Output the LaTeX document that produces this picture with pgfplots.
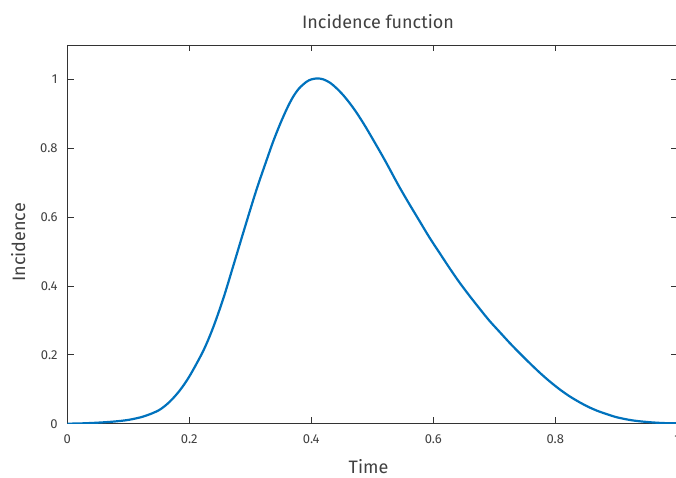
\documentclass[border=0pt]{standalone}
\usepackage{fontspec}
\setmainfont{Fira Sans}
\usepackage{pgfplots}
\pgfplotsset{compat=1.18}
\definecolor{curve}{RGB}{0,114,189}
\definecolor{txt}{RGB}{64,64,64}
\begin{document}
\begin{tikzpicture}[x=1pt,y=1pt]
\useasboundingbox (0,0) rectangle (676,478);
\begin{axis}[
  at={(67.3pt,54.3pt)}, anchor=south west,
  scale only axis, width=610pt, height=378.7pt,
  xmin=0, xmax=1, ymin=0, ymax=1.1,
  xtick={0,0.2,0.4,0.6,0.8,1},
  ytick={0,0.2,0.4,0.6,0.8,1},
  tick align=inside, major tick length=6.5pt,
  axis line style={draw=black!80, line width=0.9pt},
  every tick/.style={draw=black!80, line width=0.9pt},
  /pgf/number format/assume math mode=true,
  tick label style={font=\fontsize{13}{15}\selectfont, text=txt, inner sep=0pt},
  xticklabel style={anchor=center, yshift=-15.8pt},
  yticklabel style={anchor=east, xshift=-9.5pt},
]
\addplot[curve, line width=2.2pt, smooth] table {
0 0
0.025 0.001
0.05 0.003
0.075 0.006
0.1 0.011
0.125 0.021
0.15 0.039
0.168 0.064
0.185 0.098
0.201 0.140
0.223 0.212
0.239 0.279
0.256 0.365
0.272 0.458
0.290 0.564
0.310 0.679
0.327 0.767
0.338 0.822
0.349 0.871
0.360 0.915
0.370 0.949
0.380 0.974
0.392 0.993
0.400 1.000
0.410 1.003
0.420 1.000
0.431 0.990
0.441 0.975
0.452 0.955
0.463 0.931
0.474 0.904
0.487 0.868
0.500 0.829
0.521 0.764
0.543 0.692
0.560 0.640
0.578 0.587
0.594 0.540
0.611 0.494
0.627 0.451
0.643 0.410
0.660 0.370
0.676 0.334
0.692 0.299
0.709 0.266
0.725 0.235
0.742 0.204
0.758 0.176
0.774 0.149
0.790 0.124
0.807 0.100
0.823 0.080
0.840 0.062
0.854 0.049
0.868 0.038
0.884 0.028
0.9 0.019
0.925 0.010
0.95 0.005
0.975 0.002
1.0 0.001
};
\end{axis}
\node[anchor=base, inner sep=0pt, font=\fontsize{18}{20}\selectfont, text=txt] at (378,449) {Incidence function};
\node[anchor=base, inner sep=0pt, font=\fontsize{18}{20}\selectfont, text=txt] at (368.5,4) {Time};
\node[anchor=base, inner sep=0pt, rotate=90, font=\fontsize{18}{20}\selectfont, text=txt] at (25,235.5) {Incidence};
\end{tikzpicture}
\end{document}
